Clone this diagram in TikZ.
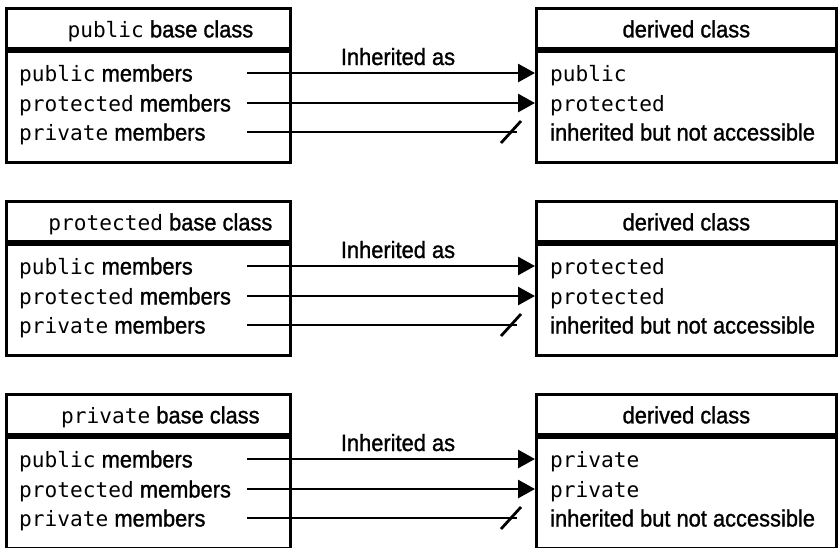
\documentclass[tikz,border=0pt]{standalone}
\usepackage{fontspec}
\setmainfont{Liberation Sans}[FakeStretch=0.93, FakeBold=1.2]
\newfontfamily\codefont{DejaVu Sans Mono}[Scale=0.9]
\usepackage{tikz}
\usetikzlibrary{arrows.meta,positioning}
\newcommand{\cd}[1]{{\codefont #1}}

\begin{document}
\begin{tikzpicture}[x=1pt, y=-1pt,
  font=\fontsize{23.5}{28}\selectfont,
  hdr/.style={draw, line width=2.8pt, minimum width=#1, minimum height=40pt,
              inner sep=0pt, text height=19pt, text depth=1pt},
  body/.style={draw, line width=2.8pt, minimum width=#1, minimum height=111pt},
  row/.style={anchor=west, inner xsep=0pt, inner ysep=0pt,
              text height=20pt, text depth=3pt},
  drow/.style={row, inner xsep=15pt},
  note/.style={anchor=base},
  arrow/.style={-{Triangle[length=17pt, width=18pt]}, line width=2.8pt},
  cutline/.style={line width=2.8pt}
]
\useasboundingbox (0,0) rectangle (838,547);

%% Panel 1: public base class
\node[hdr=284pt, anchor=north west] (bhead1) at (5,7)
  {\hspace*{24pt}\cd{public} base class};
\node[body=284pt, anchor=north] (bbody1) at (bhead1.south) {};
\node[hdr=300pt, anchor=north west] (dhead1) at (535,7) {derived class};
\node[body=300pt, anchor=north] (dbody1) at (dhead1.south) {};

\node[row] (bpub1) at (19,73) {\cd{public} members};
\node[row] (bpro1) at (19,103) {\cd{protected} members};
\node[row] (bpri1) at (19,132) {\cd{private} members};
\node[drow] (dpub1) at (535,73) {\cd{public}};
\node[drow] (dpro1) at (535,103) {\cd{protected}};
\node[drow] (dpri1) at (535,132) {inherited but not accessible};
\node[note] (inh1) at (398,65) {Inherited as};

\coordinate (spub1) at (247,73);
\coordinate (spro1) at (247,103);
\coordinate (spri1) at (247,132);
\coordinate (cut1) at (517,132);
\draw[arrow] (spub1) -- (dpub1.west);
\draw[arrow] (spro1) -- (dpro1.west);
\draw[cutline] (spri1) -- (cut1);
\draw[cutline] ([shift={(-16,11)}]cut1) -- ([shift={(4,-11)}]cut1);

%% Panel 2: protected base class
\node[hdr=284pt, anchor=north west] (bhead2) at (5,200)
  {\hspace*{24pt}\cd{protected} base class};
\node[body=284pt, anchor=north] (bbody2) at (bhead2.south) {};
\node[hdr=300pt, anchor=north west] (dhead2) at (535,200) {derived class};
\node[body=300pt, anchor=north] (dbody2) at (dhead2.south) {};

\node[row] (bpub2) at (19,266) {\cd{public} members};
\node[row] (bpro2) at (19,296) {\cd{protected} members};
\node[row] (bpri2) at (19,325) {\cd{private} members};
\node[drow] (dpub2) at (535,266) {\cd{protected}};
\node[drow] (dpro2) at (535,296) {\cd{protected}};
\node[drow] (dpri2) at (535,325) {inherited but not accessible};
\node[note] (inh2) at (398,258) {Inherited as};

\coordinate (spub2) at (247,266);
\coordinate (spro2) at (247,296);
\coordinate (spri2) at (247,325);
\coordinate (cut2) at (517,325);
\draw[arrow] (spub2) -- (dpub2.west);
\draw[arrow] (spro2) -- (dpro2.west);
\draw[cutline] (spri2) -- (cut2);
\draw[cutline] ([shift={(-16,11)}]cut2) -- ([shift={(4,-11)}]cut2);

%% Panel 3: private base class
\node[hdr=284pt, anchor=north west] (bhead3) at (5,393)
  {\hspace*{24pt}\cd{private} base class};
\node[body=284pt, anchor=north] (bbody3) at (bhead3.south) {};
\node[hdr=300pt, anchor=north west] (dhead3) at (535,393) {derived class};
\node[body=300pt, anchor=north] (dbody3) at (dhead3.south) {};

\node[row] (bpub3) at (19,459) {\cd{public} members};
\node[row] (bpro3) at (19,489) {\cd{protected} members};
\node[row] (bpri3) at (19,518) {\cd{private} members};
\node[drow] (dpub3) at (535,459) {\cd{private}};
\node[drow] (dpro3) at (535,489) {\cd{private}};
\node[drow] (dpri3) at (535,518) {inherited but not accessible};
\node[note] (inh3) at (398,451) {Inherited as};

\coordinate (spub3) at (247,459);
\coordinate (spro3) at (247,489);
\coordinate (spri3) at (247,518);
\coordinate (cut3) at (517,518);
\draw[arrow] (spub3) -- (dpub3.west);
\draw[arrow] (spro3) -- (dpro3.west);
\draw[cutline] (spri3) -- (cut3);
\draw[cutline] ([shift={(-16,11)}]cut3) -- ([shift={(4,-11)}]cut3);

\end{tikzpicture}
\end{document}
